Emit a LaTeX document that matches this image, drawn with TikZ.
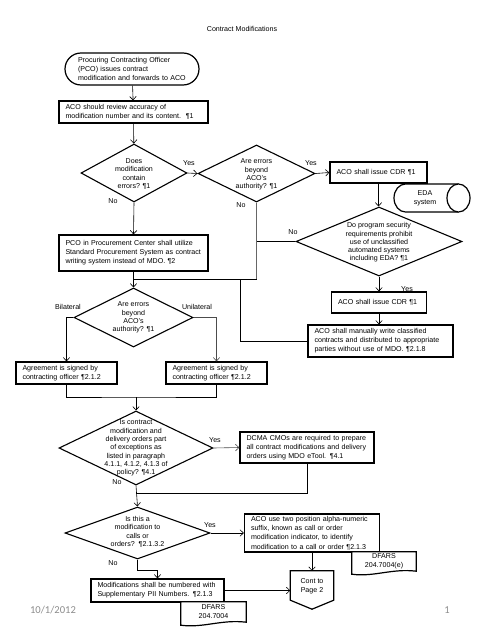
\documentclass[tikz,border=0pt]{standalone}
\usepackage{fontspec}
\setmainfont{Liberation Sans}
\newfontfamily\footfont{Carlito}
\usetikzlibrary{shapes.geometric,arrows.meta,calc}
\begin{document}
\begin{tikzpicture}[x=1pt,y=-1pt,
 every node/.style={font=\fontsize{7.1}{9}\selectfont},
 box/.style={draw, line width=1.2pt, fill=white, inner xsep=6.5pt, inner ysep=0pt, align=left},
 term/.style={box, rounded corners=16pt, inner xsep=13pt},
 dia/.style={draw, diamond, line width=1.1pt, inner sep=0pt},
 dtext/.style={align=center, inner sep=0pt, font=\fontsize{7.1}{8.3}\selectfont},
 doctext/.style={align=center, inner sep=0pt},
 lbl/.style={inner sep=0pt},
 shapeline/.style={line width=1.2pt},
 conn/.style={line width=0.6pt, -{Straight Barb[length=3.5pt,width=6.5pt]}},
 link/.style={line width=0.6pt},
 glink/.style={line width=0.9pt, black!60},
 foot/.style={font=\footfont\fontsize{10.6}{12}\selectfont, text=black!45},
]
\useasboundingbox (0,0) rectangle (480,640);

\node (title) at (242,29) {Contract Modifications};

% ---------- shapes ----------
\node[term, minimum width=134, minimum height=32, text width=108] (start) at (132,69)
 {Procuring Contracting Officer\\(PCO) issues contract\\modification and forwards to ACO};

\node[box, minimum width=149, minimum height=22, text width=136] (b1) at (133.5,112)
 {ACO should review accuracy of\\modification number and its content.\ \ \P1};

\node[dia, minimum width=106, minimum height=58] (d1) at (134,173) {};
\node[dtext] (d1t) at (134,174) {Does\\modification\\contain\\errors? \P1};

\node[dia, minimum width=117, minimum height=57] (d2) at (256.5,173.5) {};
\node[dtext] (d2t) at (256.5,174.5) {Are errors\\beyond\\ACO's\\authority? \P1};

\node[box, minimum width=97, minimum height=21, text width=84] (cdr1) at (378.5,172.5)
 {ACO shall issue CDR \P1};

% EDA system (horizontal cylinder)
\coordinate (edaL) at (405.5,198);
\coordinate (edaR) at (458.5,198);
\draw[shapeline, fill=white] ($(edaR)+(0,-14)$) -- ($(edaL)+(0,-14)$)
 arc[start angle=270, end angle=90, x radius=11.5, y radius=14]
 -- ($(edaR)+(0,14)$);
\draw[shapeline, fill=white] (edaR) ellipse[x radius=11.5, y radius=14];
\node[doctext, font=\fontsize{7.1}{8.5}\selectfont] (eda) at (425,198.5) {EDA\\system};

\node[dia, minimum width=166, minimum height=69] (d3) at (379,241.5) {};
\node[dtext] (d3t) at (379,242.5) {Do program security\\requirements prohibit\\use of unclassified\\automated systems\\including EDA? \P1};

\node[box, minimum width=149, minimum height=36, text width=136] (pco) at (133.5,253)
 {PCO in Procurement Center shall utilize\\Standard Procurement System as contract\\writing system instead of MDO. \P2};

\node[lbl] (yes3) at (407,289) {Yes};
\node[box, minimum width=95, minimum height=21, text width=82] (cdr2) at (379,302.5)
 {ACO shall issue CDR \P1};

\node[box, minimum width=145, minimum height=32, text width=132] (manual) at (380.5,341)
 {ACO shall manually write classified\\contracts and distributed to appropriate\\parties without use of MDO. \P2.1.8};

\node[dia, minimum width=119, minimum height=59] (d4) at (133.5,317.5) {};
\node[dtext] (d4t) at (133.5,317.5) {Are errors\\beyond\\ACO's\\authority? \P1};

\node[box, minimum width=101, minimum height=22, text width=88] (ag1) at (66.5,373)
 {Agreement is signed by\\contracting officer \P2.1.2};
\node[box, minimum width=101, minimum height=22, text width=88] (ag2) at (216.5,373)
 {Agreement is signed by\\contracting officer \P2.1.2};

\node[dia, minimum width=154, minimum height=74] (d5) at (136,448) {};
\node[dtext] (d5t) at (136,448) {Is contract\\modification and\\delivery orders part\\of exceptions as\\listed in paragraph\\4.1.1, 4.1.2, 4.1.3 of\\policy? \P4.1};

\node[box, minimum width=134, minimum height=31, text width=121] (dcma) at (307,447.5)
 {DCMA CMOs are required to prepare\\all contract modifications and delivery\\orders using MDO eTool. \P4.1};

\node[dia, minimum width=145, minimum height=52] (d6) at (137.5,533) {};
\node[dtext] (d6t) at (137.5,532) {Is this a\\modification to\\calls or\\orders?\ \ \P2.1.3.2};

\node[box, minimum width=135, minimum height=38, text width=122, font=\fontsize{7.1}{9.3}\selectfont] (aco) at (312,533)
 {ACO use two position alpha-numeric\\suffix, known as call or order\\modification indicator, to identify\\modification to a call or order \P2.1.3};

% DFARS document 1
\node[doctext, minimum width=64, minimum height=19] (f1) at (384,561.5) {};
\draw[shapeline, fill=white] (f1.north west) -- (f1.north east) -- (f1.south east)
 .. controls ($(f1.south)+(8,-3)$) and ($(f1.south)+(-10,6)$) .. ($(f1.south west)+(0,3)$) -- cycle;
\node[doctext] (f1t) at (384,561) {DFARS\\204.7004(e)};

% Cont to page 2
\node[doctext, minimum width=43, minimum height=29] (cont) at (312,585.5) {};
\draw[shapeline, fill=white] (cont.north west) -- (cont.north east) -- (cont.south east)
 -- ($(cont.south)+(0,9)$) -- (cont.south west) -- cycle;
\node[doctext] (contt) at (312,586.5) {Cont to\\Page 2};

\node[box, minimum width=133, minimum height=23, text width=120] (mod) at (157.5,590.5)
 {Modifications shall be numbered with\\Supplementary PII Numbers. \P2.1.3};

% DFARS document 2
\node[doctext, minimum width=65, minimum height=20] (f2) at (213.5,612) {};
\draw[shapeline, fill=white] (f2.north west) -- (f2.north east) -- (f2.south east)
 .. controls ($(f2.south)+(8,-3)$) and ($(f2.south)+(-10,6)$) .. ($(f2.south west)+(0,3)$) -- cycle;
\node[doctext] (f2t) at (213.5,612) {DFARS\\204.7004};

% ---------- labels ----------
\node[lbl] (yes1) at (189,163) {Yes};
\node[lbl] (no1) at (113,201) {No};
\node[lbl] (yes2) at (311,163) {Yes};
\node[lbl] (no2) at (241,205) {No};
\node[lbl] (no3) at (293,232) {No};
\node[lbl] (bil) at (68,307) {Bilateral};
\node[lbl] (uni) at (197,307) {Unilateral};
\node[lbl] (yes5) at (215,440) {Yes};
\node[lbl] (no5) at (117,482) {No};
\node[lbl] (yes6) at (210,525) {Yes};
\node[lbl] (no6) at (113,563) {No};

% ---------- connectors ----------
\coordinate (j1) at (256.5,279);
\coordinate (j2) at (133.5,279);
\coordinate (j3) at (240,279);
\coordinate (j4) at (136,397);
\coordinate (j5) at (136,493);

\draw[conn] (start) -- (b1);
\draw[conn] (b1) -- (d1);
\draw[conn] (d1.east) -- (d2.west);
\draw[conn] (d2.east) -- (cdr1.west);
\draw[conn] (cdr1.south) -- (cdr1.south |- d3.north);
\draw[conn] (d1.south) -- (pco.north);
\draw[glink] (d2.south) -- (j1);
\draw[link] (j1) -- (j2);
\draw[link] (d3.west) -- (d3.west -| j1);
\draw[conn] (d3.south) -- (cdr2.north);
\draw[conn] (cdr2.south) -- (cdr2.south |- manual.north);
\draw[link] (manual.west) -| (j3);
\draw[conn] (pco.south) -- (d4.north);
\draw[conn] (d4.west) -| (ag1.north);
\draw[conn, black!70] (d4.east) -| (ag2.north);
\draw[link] (ag1.south) |- (j4) -| (ag2.south);
\draw[conn] (j4) -- (d5.north);
\draw[conn, black!70] (d5.east) -- (dcma.west);
\draw[conn] (d5.south) -- (d6.north);
\draw[link] (dcma.south) |- (j5);
\draw[conn] (d6.east) -- (aco.west);
\draw[conn] (aco.south) -- (cont.north);
\draw[conn] (d6.south) -- ++(0,11) -| (mod.north);
\draw[conn] (mod.east) -- (mod.east -| cont.west);

% ---------- footer ----------
\node[foot] (date) at (53,610) {10/1/2012};
\node[foot] (page) at (447,610) {1};
\end{tikzpicture}
\end{document}
